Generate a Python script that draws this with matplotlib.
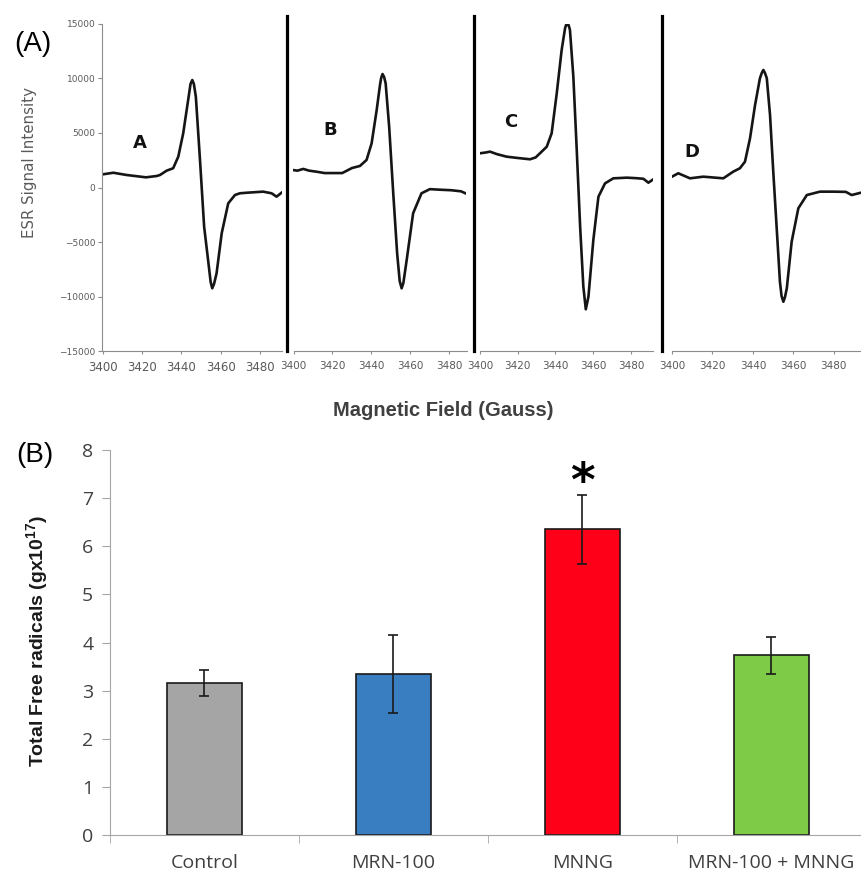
import matplotlib
matplotlib.use('Agg')
import matplotlib.pyplot as plt
from matplotlib.lines import Line2D
import numpy as np

# ESR spectra (magnetic field in Gauss, signal intensity)
field_a = [3400, 3405.5, 3412, 3422, 3427.4, 3429.1, 3432.5, 3435.8, 3438.4, 3440.9, 3443.4,
           3444.6, 3445.5, 3446.3, 3447.3, 3449.4, 3451.5, 3453.9, 3454.8, 3455.6, 3456.5,
           3457.8, 3460.4, 3463.7, 3467.1, 3469.6, 3473, 3481.4, 3485.7, 3488.2, 3490.7]
esr_a = [1200, 1350, 1150, 930, 1050, 1140, 1540, 1760, 2820, 4960, 8000,
         9470, 9830, 9470, 8300, 2520, -3590, -7240, -8640, -9220, -8830,
         -7850, -4190, -1450, -690, -530, -480, -380, -530, -840, -480]

field_b = [3400, 3402, 3405, 3408, 3412, 3416, 3420, 3425, 3430, 3434.1, 3437.5, 3440.1,
           3442.7, 3444.4, 3445.0, 3445.7, 3446.5, 3447.3, 3449.1, 3451.2, 3453.2, 3454.5,
           3455.5, 3456.4, 3458.1, 3461.4, 3465.7, 3470, 3475, 3481, 3486, 3488.5]
esr_b = [1590, 1540, 1700, 1540, 1440, 1320, 1320, 1320, 1780, 1970, 2520, 4040,
         7090, 9380, 10020, 10380, 10110, 9530, 5560, -530, -6020, -8550,
         -9220, -8730, -6630, -2360, -530, -150, -200, -250, -350, -550]

field_c = [3400, 3403, 3405.3, 3409, 3414.1, 3420, 3426.5, 3429.5, 3431.8, 3435.4, 3438.0,
           3440.7, 3443.3, 3445.1, 3445.6, 3446.3, 3447.0, 3447.7, 3449.5, 3451.3, 3453.1,
           3454.8, 3456.1, 3457.5, 3460.1, 3462.8, 3466.3, 3470.7, 3478, 3483, 3486.6,
           3489.3, 3491.9]
esr_c = [3130, 3200, 3280, 3050, 2820, 2700, 2580, 2750, 3130, 3730, 4960,
         8620, 12580, 14560, 14850, 14900, 14850, 14410, 10130, 3430, -3590,
         -9070, -11140, -9990, -4800, -840, 380, 840, 900, 850, 800,
         440, 750]

field_d = [3400, 3403.1, 3408.9, 3415.5, 3425.4, 3430.3, 3433.6, 3436.1, 3438.6, 3441.1,
           3443.5, 3444.4, 3445.2, 3446.0, 3446.9, 3448.5, 3450.1, 3451.8, 3453.4, 3454.2,
           3455.1, 3455.9, 3456.8, 3459.2, 3462.5, 3466.7, 3473.2, 3480, 3486, 3488.9, 3494]
esr_d = [990, 1300, 840, 990, 840, 1450, 1760, 2360, 4500, 7550,
         9990, 10470, 10750, 10470, 9990, 6630, 1450, -3730, -8620, -9920,
         -10450, -10020, -9220, -4960, -1900, -690, -380, -380, -400, -690, -450]

# panel B: total free radicals
groups = ['Control', 'MRN-100', 'MNNG', 'MRN-100 + MNNG']
radicals = [3.15, 3.35, 6.35, 3.73]
radicals_err = [0.27, 0.81, 0.72, 0.38]
bar_colors = ['#A5A5A5', '#3A7EC2', '#FF0019', '#7DCB47']

plt.rcParams['mathtext.fontset'] = 'custom'
plt.rcParams['mathtext.rm'] = 'Liberation Sans'
plt.rcParams['mathtext.bf'] = 'Liberation Sans:bold'

W, H = 862, 877
fig = plt.figure(figsize=(W / 100, H / 100), dpi=100)


def box(x0, y0, x1, y1):
    return [x0 / W, 1 - y1 / H, (x1 - x0) / W, (y1 - y0) / H]


grey = '#8C8C8C'
lab = '#5A5A5A'

spectra = [
    (field_a, esr_a, 102.5, 281.5, 3490.7, 'A', 140, 143),
    (field_b, esr_b, 293.5, 466.5, 3488.8, 'B', 330, 130),
    (field_c, esr_c, 480, 653.5, 3492, 'C', 511, 122),
    (field_d, esr_d, 672, 862, 3494, 'D', 692, 152),
]
for i, (fx_, fy_, x0, x1, xmax, name, tx, ty) in enumerate(spectra):
    ax = fig.add_axes(box(x0, 23.5, x1, 351.5))
    ax.plot(fx_, fy_, color='#151515', lw=1.9, solid_joinstyle='round')
    ax.set_xlim(3400, xmax)
    ax.set_ylim(-15000, 15000)
    ax.set_xticks([3400, 3420, 3440, 3460, 3480])
    for s in ['top', 'right']:
        ax.spines[s].set_visible(False)
    ax.spines['bottom'].set_color(grey)
    ax.spines['left'].set_color(grey)
    ax.tick_params(axis='x', direction='out', length=2.5, color=grey, labelcolor=lab,
                   labelsize=8.5 if i == 0 else 7.5, pad=4)
    if i == 0:
        ax.set_yticks(np.arange(-15000, 15001, 5000))
        ax.tick_params(axis='y', direction='out', length=3, color=grey, labelcolor=lab,
                       labelsize=6.5, pad=2)
    else:
        ax.spines['left'].set_visible(False)
        ax.set_yticks([])
    ax.patch.set_alpha(0)
    fig.text(tx / W, 1 - ty / H, name, ha='center', va='center', fontsize=13,
             fontweight='bold', family='DejaVu Sans', color='#111111')

# thick separators between the spectra
for sx in [287.5, 474.5, 662]:
    fig.add_artist(Line2D([sx / W, sx / W], [1 - 16 / H, 1 - 351 / H], color='black',
                          lw=2.3, transform=fig.transFigure))

fig.text(33 / W, 1 - 44 / H, '(A)', ha='center', va='center', fontsize=20,
         family='Liberation Sans')
fig.text(30 / W, 1 - 162 / H, 'ESR Signal Intensity', ha='center', va='center',
         rotation=90, fontsize=10.8, family='DejaVu Sans', color=lab)
fig.text(443 / W, 1 - 411 / H, 'Magnetic Field (Gauss)', ha='center', va='center',
         fontsize=14.5, fontweight='bold', family='Liberation Sans', color='#404040')

# bar chart
bx = fig.add_axes(box(110, 450, 862, 835))
pos = np.arange(len(groups))
bx.bar(pos, radicals, width=0.4, color=bar_colors, edgecolor='#1A1A1A', linewidth=1.2,
       zorder=2)
bx.errorbar(pos, radicals, yerr=radicals_err, fmt='none', ecolor='#1A1A1A',
            elinewidth=1.2, capsize=3.5, capthick=1.2, zorder=3)
bx.text(2, 7.05, '*', ha='center', va='baseline', fontsize=34, fontweight='bold',
        family='DejaVu Sans')
bx.set_xlim(-0.5, 3.48)
bx.set_ylim(0, 8)
bx.set_yticks(range(0, 9))
bx.set_xticks(pos)
bx.set_xticklabels(groups)
bx.set_xticks(np.arange(-0.5, 3.0, 1.0), minor=True)
for s in ['top', 'right']:
    bx.spines[s].set_visible(False)
bx.spines['left'].set_color('#A6A6A6')
bx.spines['bottom'].set_color('#A6A6A6')
bx.tick_params(axis='y', direction='out', length=6, color='#A6A6A6', labelcolor='#404040',
               labelsize=14, pad=6)
bx.tick_params(axis='x', which='major', length=0, labelcolor='#404040', labelsize=14, pad=14)
bx.tick_params(axis='x', which='minor', direction='out', length=6, color='#A6A6A6')
for t in bx.get_xticklabels() + bx.get_yticklabels():
    t.set_family('Open Sans')

fig.text(38 / W, 1 - 641 / H, r'Total Free radicals (gx10$^{\mathbf{17}}$)', ha='center',
         va='center', rotation=90, fontsize=14, fontweight='bold', family='Liberation Sans',
         color='#1A1A1A')
fig.text(35 / W, 1 - 455 / H, '(B)', ha='center', va='center', fontsize=20,
         family='Liberation Sans')

fig.savefig('out.png', dpi=100)
